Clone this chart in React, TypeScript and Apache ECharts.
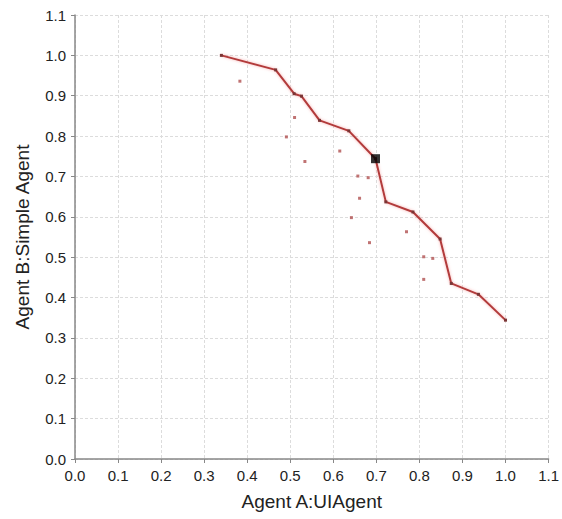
import React, { useEffect, useRef } from "react";
import * as echarts from "echarts";

// Pareto frontier (line)
const frontierA = [0.34, 0.466, 0.509, 0.526, 0.568, 0.636, 0.698, 0.722, 0.785, 0.848, 0.874, 0.937, 1.0];
const frontierB = [1.0, 0.964, 0.905, 0.899, 0.839, 0.813, 0.744, 0.637, 0.612, 0.545, 0.435, 0.408, 0.344];

// Other outcomes (dots)
const outcomeA = [0.383, 0.51, 0.491, 0.615, 0.534, 0.657, 0.681, 0.661, 0.642, 0.684, 0.77, 0.81, 0.831, 0.81];
const outcomeB = [0.936, 0.846, 0.798, 0.763, 0.737, 0.701, 0.697, 0.646, 0.598, 0.536, 0.563, 0.501, 0.497, 0.445];

// Agreement point
const agreementA = [0.698];
const agreementB = [0.744];

const ticks = [0, 0.1, 0.2, 0.3, 0.4, 0.5, 0.6, 0.7, 0.8, 0.9, 1.0, 1.1];

export default function App() {
  const ref = useRef<HTMLDivElement>(null);
  useEffect(() => {
    if (!ref.current) return;
    const chart = echarts.init(ref.current, undefined, { renderer: "svg" });
    const fmt = (v: number) => v.toFixed(1);
    const font = "Liberation Sans, Arial, sans-serif";
    const axisCommon = {
      type: "value" as const,
      min: ticks[0],
      max: ticks[ticks.length - 1],
      interval: 0.1,
      axisLine: { show: true, lineStyle: { color: "#888", width: 1.5 } },
      axisTick: { show: true, length: 4, lineStyle: { color: "#888" } },
      axisLabel: {
        formatter: fmt,
        color: "#222",
        fontFamily: font,
        fontSize: 15,
        margin: 9,
      },
      splitLine: { show: true, lineStyle: { color: "#dcdcdc", type: [3, 2] as any, width: 1 } },
      nameLocation: "middle" as const,
      nameTextStyle: { color: "#222", fontFamily: font, fontSize: 19 },
    };
    chart.setOption({
      animation: false,
      backgroundColor: "#fff",
      grid: { left: 75, right: 13, top: 15, bottom: 60, containLabel: false },
      xAxis: {
        ...axisCommon,
        name: "Agent A:UIAgent",
        nameGap: 33,
      },
      yAxis: {
        ...axisCommon,
        name: "Agent B:Simple Agent",
        nameGap: 43,
      },
      series: [
        {
          type: "line",
          data: frontierA.map((a, i) => [a, frontierB[i]]),
          symbol: "rect",
          symbolSize: 3,
          itemStyle: { color: "#7a3535" },
          lineStyle: {
            color: "#b23a3a",
            width: 2,
            shadowColor: "rgba(240,120,120,0.6)",
            shadowBlur: 3,
          },
          z: 3,
        },
        {
          type: "scatter",
          data: outcomeA.map((a, i) => [a, outcomeB[i]]),
          symbol: "rect",
          symbolSize: 3,
          itemStyle: { color: "#b05050" },
          z: 2,
        },
        {
          type: "scatter",
          data: agreementA.map((a, i) => [a, agreementB[i]]),
          symbol: "rect",
          symbolSize: 9,
          itemStyle: { color: "#000" },
          z: 5,
        },
      ],
    });
    return () => chart.dispose();
  }, []);
  return <div ref={ref} style={{ width: 562, height: 519, position: "absolute", left: 0, top: 0 }} />;
}
